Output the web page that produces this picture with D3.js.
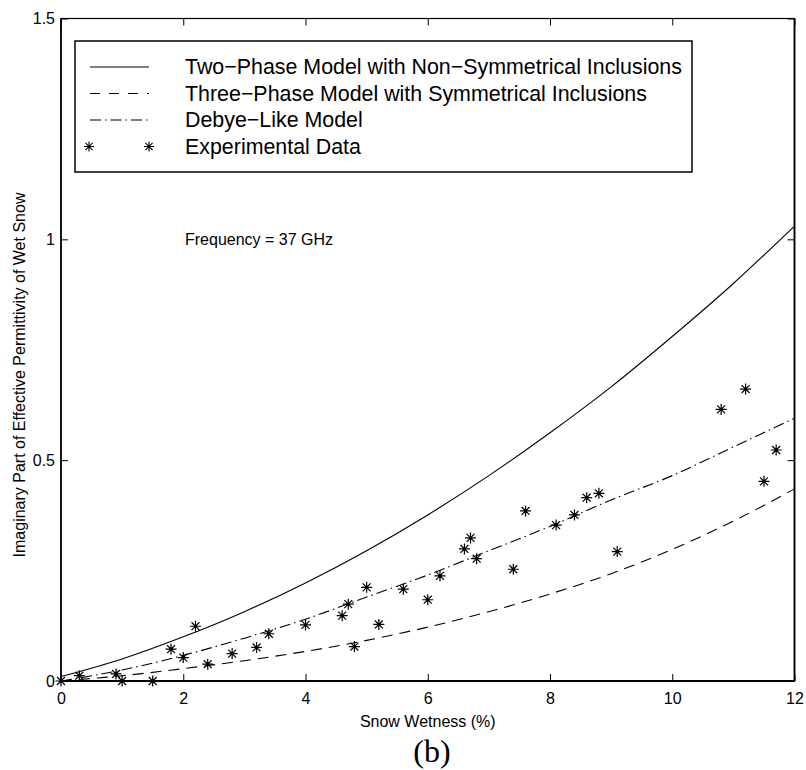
<!DOCTYPE html>
<html>
<head>
<meta charset="utf-8">
<script src="https://cdn.jsdelivr.net/npm/d3@7"></script>
<style>
  html, body { margin: 0; padding: 0; background: #fff; }
  svg { display: block; }
  text { font-family: "Liberation Sans", Arial, Helvetica, sans-serif; fill: #000; }
</style>
</head>
<body>
<svg id="chart" width="806" height="770"></svg>
<script>
// ---- Data ----
const curveX = [0, 1, 2, 3, 4, 5, 6, 7, 8, 9, 10, 11, 12];
const twoPhase   = [0.010, 0.050, 0.100, 0.157, 0.222, 0.295, 0.376, 0.465, 0.562, 0.666, 0.780, 0.900, 1.030];
const threePhase = [0.000, 0.012, 0.028, 0.046, 0.067, 0.092, 0.122, 0.157, 0.197, 0.243, 0.298, 0.362, 0.435];
const debyeLike  = [0.000, 0.025, 0.058, 0.097, 0.140, 0.190, 0.240, 0.295, 0.350, 0.410, 0.465, 0.530, 0.595];

const expX = [0, 0.3, 0.9, 1.0, 1.5, 1.8, 2.0, 2.2, 2.4, 2.8, 3.2, 3.4, 4.0, 4.6, 4.7, 4.8, 5.0, 5.2, 5.6, 6.0,
              6.2, 6.6, 6.7, 6.8, 7.4, 7.6, 8.1, 8.4, 8.6, 8.8, 9.1, 10.8, 11.2, 11.5, 11.7];
const expY = [0, 0.012, 0.016, 0.0, 0.0, 0.072, 0.053, 0.124, 0.038, 0.062, 0.076, 0.107, 0.127, 0.148, 0.174, 0.078, 0.212, 0.128, 0.208, 0.184,
              0.238, 0.299, 0.324, 0.277, 0.253, 0.385, 0.353, 0.376, 0.415, 0.425, 0.293, 0.615, 0.661, 0.452, 0.523];

const xTicks = [0, 2, 4, 6, 8, 10, 12];
const yTicks = [0, 0.5, 1, 1.5];
const yTickLabels = ["0", "0.5", "1", "1.5"];

const legendLabels = [
  "Two\u2212Phase Model with Non\u2212Symmetrical Inclusions",
  "Three\u2212Phase Model with Symmetrical Inclusions",
  "Debye\u2212Like Model",
  "Experimental Data"
];
const xLabel = "Snow Wetness (%)";
const yLabel = "Imaginary Part of Effective Permittivity of Wet Snow";
const annotation = "Frequency = 37 GHz";
const panelLabel = "(b)";

// ---- Layout ----
const mLeft = 61, mRight = 794.5, mTop = 18.5, mBottom = 681;
const svg = d3.select("#chart");

const x = d3.scaleLinear().domain([0, 12]).range([mLeft, mRight]);
const y = d3.scaleLinear().domain([0, 1.5]).range([mBottom, mTop]);

const TICK = 7;
const fs = 16;

const gB = svg.append("g").attr("transform", `translate(0,${mBottom})`)
  .call(d3.axisBottom(x).tickValues(xTicks).tickFormat(d3.format("d"))
        .tickSizeInner(-TICK).tickSizeOuter(0).tickPadding(12));
const gL = svg.append("g").attr("transform", `translate(${mLeft},0)`)
  .call(d3.axisLeft(y).tickValues(yTicks).tickFormat((d, i) => yTickLabels[i])
        .tickSizeInner(-TICK).tickSizeOuter(0).tickPadding(6));
const gT = svg.append("g").attr("transform", `translate(0,${mTop})`)
  .call(d3.axisTop(x).tickValues(xTicks).tickFormat("")
        .tickSizeInner(-TICK).tickSizeOuter(0));
const gR = svg.append("g").attr("transform", `translate(${mRight},0)`)
  .call(d3.axisRight(y).tickValues(yTicks).tickFormat("")
        .tickSizeInner(-TICK).tickSizeOuter(0));

[gB, gL, gT, gR].forEach(g => {
  g.select(".domain").remove();
  g.selectAll("line").attr("stroke", "#000").attr("stroke-width", 1);
  g.selectAll("text").attr("font-size", fs).attr("font-family", "Liberation Sans, Arial, sans-serif").attr("fill", "#000");
});

svg.append("rect")
  .attr("x", mLeft).attr("y", mTop)
  .attr("width", mRight - mLeft).attr("height", mBottom - mTop)
  .attr("fill", "none").attr("stroke", "#000").attr("stroke-width", 1.2);
svg.append("line").attr("x1", mLeft).attr("x2", mRight).attr("y1", mBottom).attr("y2", mBottom)
  .attr("stroke", "#000").attr("stroke-width", 2.2);
svg.append("line").attr("x1", mLeft).attr("x2", mLeft).attr("y1", mTop).attr("y2", mBottom)
  .attr("stroke", "#000").attr("stroke-width", 1.6);
svg.append("line").attr("x1", mRight).attr("x2", mRight).attr("y1", mTop).attr("y2", mBottom)
  .attr("stroke", "#000").attr("stroke-width", 1.8);

// ---- Curves ----
const line = d3.line().x(d => x(d[0])).y(d => y(d[1])).curve(d3.curveMonotoneX);
const styles = [
  { data: twoPhase, dash: null },
  { data: threePhase, dash: "11,7" },
  { data: debyeLike, dash: "11,4,1.5,4" }
];
styles.forEach(s => {
  svg.append("path")
    .datum(curveX.map((v, i) => [v, s.data[i]]))
    .attr("d", line)
    .attr("fill", "none")
    .attr("stroke", "#000")
    .attr("stroke-width", 1.1)
    .attr("stroke-dasharray", s.dash);
});

// ---- Experimental points ----
function starPath(r) {
  const k = r * 0.72;
  return `M${-r},0H${r}M0,${-r}V${r}M${-k},${-k}L${k},${k}M${-k},${k}L${k},${-k}`;
}
const star = starPath(5.5);
const pts = expX.map((v, i) => [v, expY[i]]);
svg.append("g").selectAll("path")
  .data(pts)
  .join("path")
  .attr("transform", d => `translate(${x(d[0])},${y(d[1])})`)
  .attr("d", star)
  .attr("fill", "none")
  .attr("stroke", "#000")
  .attr("stroke-width", 1.2);
svg.append("g").selectAll("circle")
  .data(pts)
  .join("circle")
  .attr("cx", d => x(d[0])).attr("cy", d => y(d[1]))
  .attr("r", 1.6).attr("fill", "#000");

// ---- Legend ----
const lg = svg.append("g");
lg.append("rect")
  .attr("x", 75).attr("y", 41).attr("width", 617).attr("height", 131)
  .attr("fill", "#fff").attr("stroke", "#000").attr("stroke-width", 1.5);
const rowY = [67, 93.5, 120, 146.5];
const dashes = [null, "10,9", "11,4,1.5,4"];
for (let i = 0; i < 3; i++) {
  lg.append("line")
    .attr("x1", 90).attr("x2", 149).attr("y1", rowY[i]).attr("y2", rowY[i])
    .attr("stroke", "#000").attr("stroke-width", 1.1)
    .attr("stroke-dasharray", dashes[i]);
}
[89, 149].forEach(px => {
  lg.append("path").attr("transform", `translate(${px},${rowY[3]})`)
    .attr("d", starPath(5)).attr("fill", "none").attr("stroke", "#000").attr("stroke-width", 1.1);
});
legendLabels.forEach((t, i) => {
  lg.append("text").attr("x", 185).attr("y", rowY[i] + 7.4)
    .attr("font-size", 21.4).text(t);
});

// ---- Texts ----
svg.append("text").attr("x", 185).attr("y", 245).attr("font-size", fs).text(annotation);
svg.append("text").attr("x", (mLeft + mRight) / 2).attr("y", 727)
  .attr("text-anchor", "middle").attr("font-size", fs).text(xLabel);
svg.append("text")
  .attr("transform", `translate(25,375) rotate(-90)`)
  .attr("text-anchor", "middle").attr("font-size", fs).text(yLabel);
svg.append("text").attr("x", 432).attr("y", 762)
  .attr("text-anchor", "middle").attr("font-size", 32)
  .style("font-family", "'Liberation Serif', 'Times New Roman', serif")
  .text(panelLabel);
</script>
</body>
</html>
